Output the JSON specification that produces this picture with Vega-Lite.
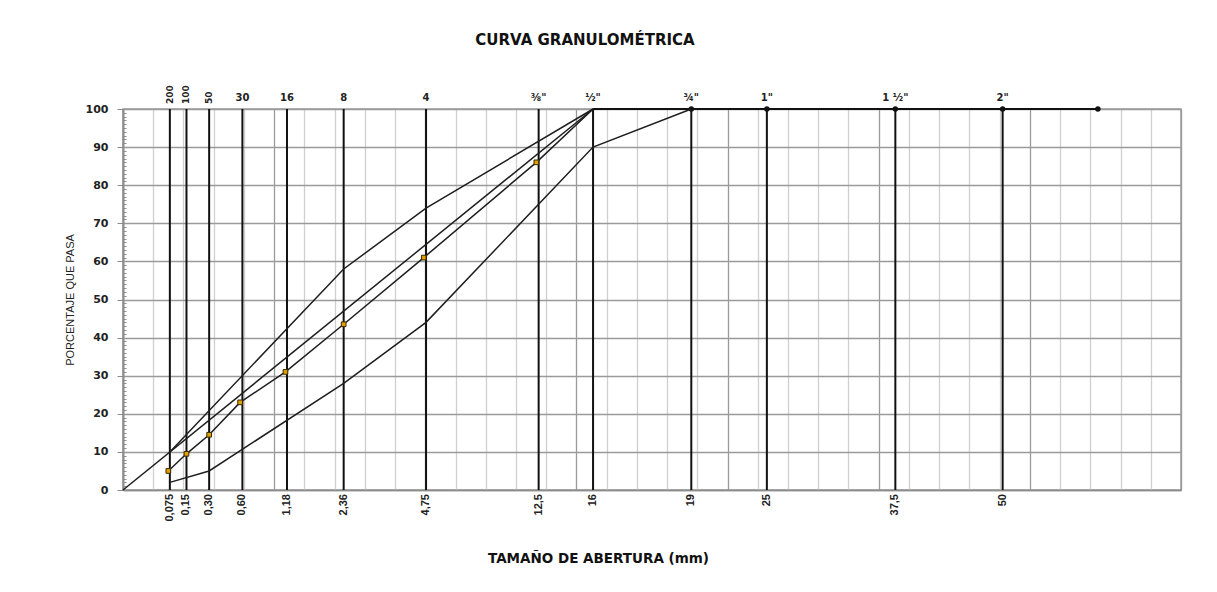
{
  "$schema": "https://vega.github.io/schema/vega-lite/v6.json",
  "width": 1058,
  "height": 381,
  "autosize": {"type": "none"},
  "padding": {"left": 123, "top": 109, "right": 36, "bottom": 102},
  "background": "white",
  "config": {
    "view": {"stroke": "#9a9a9a", "strokeWidth": 1.5},
    "font": "DejaVu Sans"
  },
  "title": {
    "text": "CURVA GRANULOMÉTRICA",
    "font": "DejaVu Sans",
    "fontSize": 15,
    "fontWeight": "bold",
    "color": "#111111",
    "anchor": "middle",
    "frame": "group",
    "baseline": "bottom",
    "dx": -67,
    "offset": 22
  },
  "datasets": {
    "tamices": [
      {"x": 0.31, "inf": "0,075", "sup": "200", "rotar": true},
      {"x": 0.42, "inf": "0,15", "sup": "100", "rotar": true},
      {"x": 0.57, "inf": "0,30", "sup": "50", "rotar": true},
      {"x": 0.79, "inf": "0,60", "sup": "30", "rotar": false},
      {"x": 1.085, "inf": "1,18", "sup": "16", "rotar": false},
      {"x": 1.46, "inf": "2,36", "sup": "8", "rotar": false},
      {"x": 2.005, "inf": "4,75", "sup": "4", "rotar": false},
      {"x": 2.75, "inf": "12,5", "sup": "⅜\"", "rotar": false},
      {"x": 3.11, "inf": "16", "sup": "½\"", "rotar": false},
      {"x": 3.76, "inf": "19", "sup": "¾\"", "rotar": false},
      {"x": 4.26, "inf": "25", "sup": "1\"", "rotar": false},
      {"x": 5.11, "inf": "37,5", "sup": "1 ½\"", "rotar": false},
      {"x": 5.82, "inf": "50", "sup": "2\"", "rotar": false}
    ],
    "tope": [
      {"x": 3.11, "pasa": 100, "punto": false},
      {"x": 3.76, "pasa": 100, "punto": true},
      {"x": 4.26, "pasa": 100, "punto": true},
      {"x": 5.11, "pasa": 100, "punto": true},
      {"x": 5.82, "pasa": 100, "punto": true},
      {"x": 6.45, "pasa": 100, "punto": true}
    ],
    "curvas": [
      {"serie": "Máxima densidad", "orden": 1, "x": 0, "pasa": 0},
      {"serie": "Máxima densidad", "orden": 2, "x": 3.11, "pasa": 100},
      {"serie": "Límite superior", "orden": 1, "x": 0.31, "pasa": 10},
      {"serie": "Límite superior", "orden": 2, "x": 1.46, "pasa": 58},
      {"serie": "Límite superior", "orden": 3, "x": 2.005, "pasa": 74},
      {"serie": "Límite superior", "orden": 4, "x": 3.11, "pasa": 100},
      {"serie": "Límite inferior", "orden": 1, "x": 0.31, "pasa": 2},
      {"serie": "Límite inferior", "orden": 2, "x": 0.57, "pasa": 5},
      {"serie": "Límite inferior", "orden": 3, "x": 1.46, "pasa": 28},
      {"serie": "Límite inferior", "orden": 4, "x": 2.005, "pasa": 44},
      {"serie": "Límite inferior", "orden": 5, "x": 3.11, "pasa": 90},
      {"serie": "Límite inferior", "orden": 6, "x": 3.76, "pasa": 100},
      {"serie": "Muestra", "orden": 1, "x": 0.3, "pasa": 5},
      {"serie": "Muestra", "orden": 2, "x": 0.42, "pasa": 9.5},
      {"serie": "Muestra", "orden": 3, "x": 0.57, "pasa": 14.5},
      {"serie": "Muestra", "orden": 4, "x": 0.775, "pasa": 23},
      {"serie": "Muestra", "orden": 5, "x": 1.075, "pasa": 31},
      {"serie": "Muestra", "orden": 6, "x": 1.46, "pasa": 43.5},
      {"serie": "Muestra", "orden": 7, "x": 1.99, "pasa": 61},
      {"serie": "Muestra", "orden": 8, "x": 2.735, "pasa": 86},
      {"serie": "Muestra", "orden": 9, "x": 3.11, "pasa": 100}
    ]
  },
  "layer": [
    {
      "data": {"name": "tamices"},
      "mark": {"type": "rule", "color": "#111111", "strokeWidth": 2},
      "encoding": {
        "x": {
          "field": "x",
          "type": "quantitative",
          "scale": {"domain": [0, 7], "nice": false},
          "axis": {
            "title": "TAMAÑO DE ABERTURA (mm)",
            "titleFont": "DejaVu Sans",
            "titleFontSize": 13.5,
            "titleFontWeight": "bold",
            "titleColor": "#111111",
            "titleX": 475,
            "titleY": 68,
            "titleAlign": "center",
            "titleBaseline": "middle",
            "tickCount": 200,
            "values": [0.2, 0.4, 0.6, 0.8, 1, 1.2, 1.4, 1.6, 1.8, 2, 2.2, 2.4, 2.6, 2.8, 3, 3.2, 3.4, 3.6, 3.8, 4, 4.2, 4.4, 4.6, 4.8, 5, 5.2, 5.4, 5.6, 5.8, 6, 6.2, 6.4, 6.6, 6.8, 7],
            "labels": false,
            "ticks": false,
            "domainColor": "#8c8c8c",
            "domainWidth": 1.5,
            "grid": true,
            "gridWidth": 1.3,
            "gridColor": {"condition": {"test": "datum.value % 1 === 0", "value": "#9a9a9a"}, "value": "#d0d0d0"}
          }
        },
        "y": {
          "datum": 0,
          "type": "quantitative",
          "scale": {"domain": [0, 100], "nice": false},
          "axis": {
            "title": "PORCENTAJE QUE PASA",
            "titleFont": "Liberation Sans",
            "titleFontSize": 11,
            "titleFontWeight": "normal",
            "titleColor": "#222222",
            "titlePadding": 10,
            "tickCount": 200,
            "format": "d",
            "values": [0, 1, 2, 3, 4, 5, 6, 7, 8, 9, 10, 11, 12, 13, 14, 15, 16, 17, 18, 19, 20, 21, 22, 23, 24, 25, 26, 27, 28, 29, 30, 31, 32, 33, 34, 35, 36, 37, 38, 39, 40, 41, 42, 43, 44, 45, 46, 47, 48, 49, 50, 51, 52, 53, 54, 55, 56, 57, 58, 59, 60, 61, 62, 63, 64, 65, 66, 67, 68, 69, 70, 71, 72, 73, 74, 75, 76, 77, 78, 79, 80, 81, 82, 83, 84, 85, 86, 87, 88, 89, 90, 91, 92, 93, 94, 95, 96, 97, 98, 99, 100],
            "labelExpr": "datum.value % 10 === 0 ? datum.label : ''",
            "labelOverlap": false,
            "labelFont": "DejaVu Sans",
            "labelFontSize": 11,
            "labelFontWeight": "bold",
            "labelColor": "#222222",
            "labelPadding": 9,
            "tickSize": {"condition": {"test": "datum.value % 10 === 0", "value": 6}, "value": -3},
            "tickColor": "#8c8c8c",
            "tickWidth": 1,
            "domainColor": "#8c8c8c",
            "domainWidth": 2,
            "grid": true,
            "gridColor": "#9a9a9a",
            "gridWidth": 1.3,
            "gridOpacity": {"condition": {"test": "datum.value % 10 === 0", "value": 1}, "value": 0}
          }
        },
        "y2": {"datum": 100}
      }
    },
    {
      "data": {"name": "tope"},
      "mark": {"type": "line", "color": "#111111", "strokeWidth": 2},
      "encoding": {
        "x": {"field": "x", "type": "quantitative"},
        "y": {"field": "pasa", "type": "quantitative"}
      }
    },
    {
      "data": {"name": "tope"},
      "transform": [{"filter": "datum.punto"}],
      "mark": {"type": "point", "shape": "circle", "filled": true, "color": "#111111", "size": 30, "opacity": 1},
      "encoding": {
        "x": {"field": "x", "type": "quantitative"},
        "y": {"field": "pasa", "type": "quantitative"}
      }
    },
    {
      "data": {"name": "curvas"},
      "mark": {"type": "line", "color": "#1e1e1e", "strokeWidth": 1.5},
      "encoding": {
        "x": {"field": "x", "type": "quantitative"},
        "y": {"field": "pasa", "type": "quantitative"},
        "detail": {"field": "serie", "type": "nominal"},
        "order": {"field": "orden", "type": "quantitative"}
      }
    },
    {
      "data": {"name": "curvas"},
      "transform": [{"filter": "datum.serie === 'Muestra' && datum.pasa < 100"}],
      "mark": {"type": "point", "shape": "square", "filled": true, "fill": "#e0a000", "stroke": "#3a2a00", "strokeWidth": 1, "size": 22, "opacity": 1},
      "encoding": {
        "x": {"field": "x", "type": "quantitative"},
        "y": {"field": "pasa", "type": "quantitative"}
      }
    },
    {
      "data": {"name": "tamices"},
      "mark": {"type": "text", "angle": 270, "align": "right", "baseline": "middle", "dx": -4, "font": "Liberation Sans", "fontSize": 11, "fontWeight": "bold", "color": "#222222"},
      "encoding": {
        "x": {"field": "x", "type": "quantitative"},
        "y": {"datum": 0},
        "text": {"field": "inf"}
      }
    },
    {
      "data": {"name": "tamices"},
      "transform": [{"filter": "datum.rotar"}],
      "mark": {"type": "text", "angle": 270, "align": "left", "baseline": "middle", "dx": 5, "font": "DejaVu Sans", "fontSize": 9, "fontWeight": "bold", "color": "#222222"},
      "encoding": {
        "x": {"field": "x", "type": "quantitative"},
        "y": {"datum": 100},
        "text": {"field": "sup"}
      }
    },
    {
      "data": {"name": "tamices"},
      "transform": [{"filter": "!datum.rotar"}],
      "mark": {"type": "text", "align": "center", "baseline": "alphabetic", "dy": -8, "font": "DejaVu Sans", "fontSize": 10, "fontWeight": "bold", "color": "#222222"},
      "encoding": {
        "x": {"field": "x", "type": "quantitative"},
        "y": {"datum": 100},
        "text": {"field": "sup"}
      }
    }
  ]
}
